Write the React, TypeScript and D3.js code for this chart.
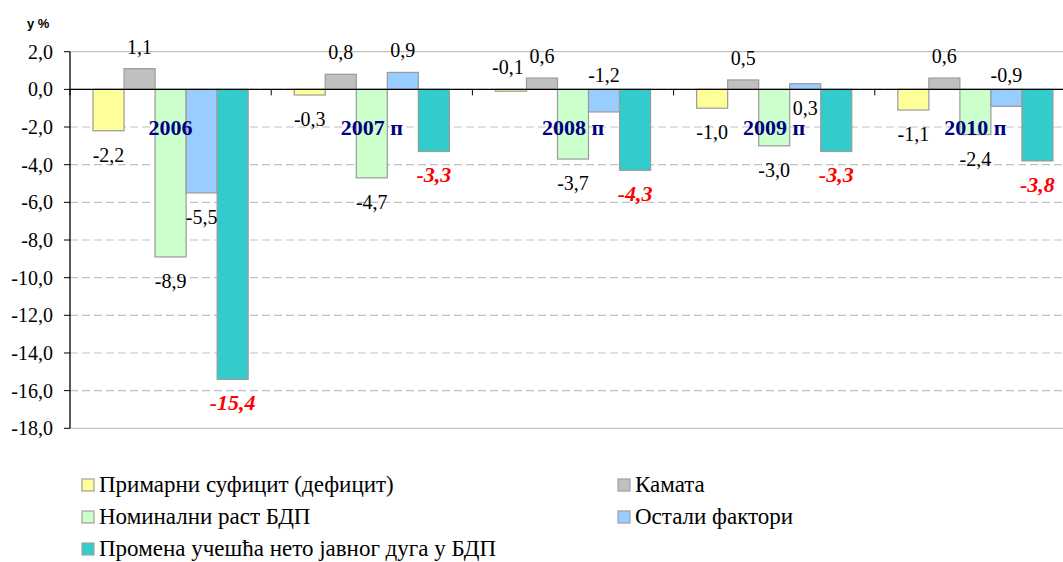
import React from "react";
import * as d3 from "d3";

const categories = ["2006", "2007 п", "2008 п", "2009 п", "2010 п"];
const seriesNames = [
  "Примарни суфицит (дефицит)",
  "Камата",
  "Номинални раст БДП",
  "Остали фактори",
  "Промена учешћа нето јавног дуга у БДП",
];
const primaryBalance = [-2.2, -0.3, -0.1, -1.0, -1.1];
const interest = [1.1, 0.8, 0.6, 0.5, 0.6];
const nominalGrowth = [-8.9, -4.7, -3.7, -3.0, -2.4];
const otherFactors = [-5.5, 0.9, -1.2, 0.3, -0.9];
const debtChange = [-15.4, -3.3, -4.3, -3.3, -3.8];
const seriesValues = [primaryBalance, interest, nominalGrowth, otherFactors, debtChange];
const seriesColors = ["#FFFF99", "#C0C0C0", "#CCFFCC", "#99CCFF", "#33CCCC"];
const yTicks = [2, 0, -2, -4, -6, -8, -10, -12, -14, -16, -18];

// label placement overrides (series index - category index): place relative to zero line
const labelOverrides: Record<string, { dy: number; dx?: number }> = {
  "0-2": { dy: -15, dx: -3 },
  "3-2": { dy: -7 },
  "3-4": { dy: -7 },
  "3-3": { dy: 26 },
};

const fmt = (v: number) => v.toFixed(1).replace(".", ",");

const SERIF = '"Liberation Serif", "Times New Roman", serif';
const SANS = '"Liberation Sans", Arial, sans-serif';

export default function App() {
  const W = 1063;
  const H = 562;
  const left = 70;
  const groupW = 201.2;
  const plotRight = left + groupW * categories.length;
  const y = d3.scaleLinear().domain([-18, 2]).range([428.3, 51.7]);
  const x0 = d3.scaleBand<string>().domain(categories).range([left, plotRight]).padding(0);
  const gap = x0.bandwidth() * 0.1145;
  const x1 = d3
    .scaleBand<number>()
    .domain(d3.range(seriesValues.length))
    .range([gap, x0.bandwidth() - gap])
    .padding(0);
  const y0 = y(0);
  const serifStyle = { fontFamily: SERIF };

  return (
    <svg
      width={W}
      height={H}
      style={{ position: "absolute", left: 0, top: 0, background: "#fff", fontFamily: SERIF }}
    >
      <rect width={W} height={H} fill="#fff" />
      {/* grid lines */}
      {yTicks.map((t) => (
        <line
          key={"g" + t}
          x1={left}
          x2={plotRight}
          y1={y(t)}
          y2={y(t)}
          stroke="#C0C0C0"
          strokeWidth={1.2}
          strokeDasharray={t === 2 || t === -18 ? undefined : "8,4"}
        />
      ))}
      {/* bars */}
      {categories.map((c, ci) => (
        <g key={c} transform={`translate(${x0(c)},0)`}>
          {seriesValues.map((vals, si) => {
            const v = vals[ci];
            return (
              <rect
                key={si}
                x={x1(si)}
                width={x1.bandwidth()}
                y={Math.min(y(v), y0)}
                height={Math.abs(y(v) - y0)}
                fill={seriesColors[si]}
                stroke="#9A9A9A"
                strokeWidth={1.2}
              />
            );
          })}
        </g>
      ))}
      {/* zero line */}
      <line x1={left} x2={plotRight} y1={y0} y2={y0} stroke="#000" strokeWidth={1.3} />
      {categories.map((c, ci) => (
        <line key={"xt" + ci} x1={x0(c)} x2={x0(c)} y1={y0} y2={y0 + 6} stroke="#000" strokeWidth={1} />
      ))}
      {/* y axis */}
      <line x1={left} x2={left} y1={y(2)} y2={y(-18)} stroke="#000" strokeWidth={1.3} />
      {yTicks.map((t) => (
        <g key={"yt" + t}>
          <line x1={left - 6} x2={left} y1={y(t)} y2={y(t)} stroke="#000" strokeWidth={1} />
          <text x={53} y={y(t) + 7} textAnchor="end" fontSize={20} fill="#000" style={serifStyle}>
            {fmt(t)}
          </text>
        </g>
      ))}
      <text x={27} y={28} style={{ fontFamily: SANS }} fontWeight="bold" fontSize={13}>
        у %
      </text>
      {/* group labels */}
      {categories.map((c) => (
        <text
          key={"cl" + c}
          x={(x0(c) as number) + x0.bandwidth() / 2}
          y={135}
          textAnchor="middle"
          fontWeight="bold"
          fontSize={22}
          fill="#000080"
          style={serifStyle}
        >
          {c}
        </text>
      ))}
      {/* value labels */}
      {categories.map((c, ci) =>
        seriesValues.map((vals, si) => {
          const v = vals[ci];
          const cx = (x0(c) as number) + (x1(si) as number) + x1.bandwidth() / 2;
          const ov = labelOverrides[`${si}-${ci}`];
          let ly: number;
          let lx = cx;
          if (ov) {
            ly = y0 + ov.dy;
            lx = cx + (ov.dx || 0);
          } else if (v >= 0) {
            ly = y(v) - 15;
          } else {
            ly = y(v) + 31;
          }
          const isTotal = si === seriesValues.length - 1;
          return (
            <text
              key={`vl${si}-${ci}`}
              x={lx}
              y={ly}
              textAnchor="middle"
              fontSize={isTotal ? 22 : 20}
              fontWeight={isTotal ? "bold" : "normal"}
              fontStyle={isTotal ? "italic" : "normal"}
              fill={isTotal ? "#FF0000" : "#000"}
              style={serifStyle}
            >
              {fmt(v)}
            </text>
          );
        })
      )}
      {/* legend */}
      {seriesNames.map((name, i) => {
        const col = i === 4 ? 0 : i % 2;
        const row = Math.floor(i / 2);
        const sx = col === 0 ? 82 : 618;
        const cy = 485 + row * 32;
        return (
          <g key={"lg" + i}>
            <rect x={sx} y={cy - 6} width={12} height={12} fill={seriesColors[i]} stroke="#A0A0A0" strokeWidth={1.2} />
            <text x={sx + 17} y={cy + 7} fontSize={23} fill="#000" style={serifStyle}>
              {name}
            </text>
          </g>
        );
      })}
    </svg>
  );
}
